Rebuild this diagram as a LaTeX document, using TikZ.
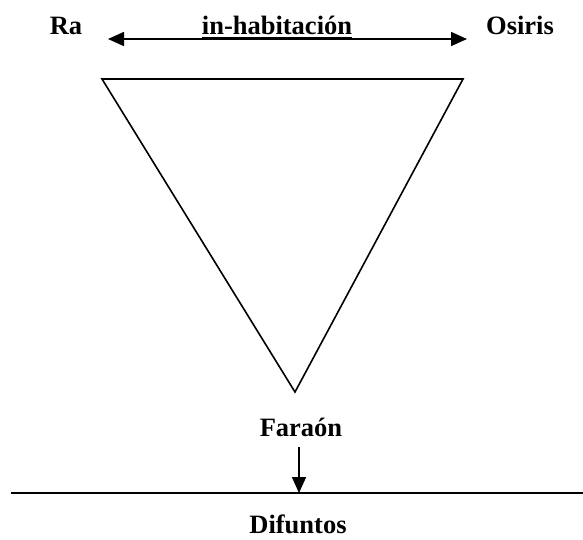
\documentclass[tikz,border=0pt]{standalone}
\usepackage{fontspec}
\setmainfont{Liberation Serif}
\usetikzlibrary{arrows.meta}
\begin{document}
\begin{tikzpicture}[x=1pt,y=-1pt,
  label/.style={font=\fontsize{26.5}{30}\selectfont\bfseries, inner sep=0pt, anchor=base},
  thin line/.style={line width=1.6pt},
  tip/.style={-{Triangle[length=16pt,width=14pt]}},
  both tips/.style={{Triangle[length=16pt,width=14pt]}-{Triangle[length=16pt,width=14pt]}}]
  \useasboundingbox (0,0) rectangle (583,539);
  % upper labels
  \node[label] (ra) at (66,34) {Ra};
  \node[label] (osiris) at (520,34) {Osiris};
  \node[label] (inh) at (277,34) {in-habitación};
  \draw[line width=1.5pt] ([yshift=-3.5pt]inh.base west) -- ([yshift=-3.5pt]inh.base east);
  % two-way arrow between Ra and Osiris
  \coordinate (aL) at (108,39);
  \coordinate (aR) at (467,39);
  \draw[thin line, both tips] (aL) -- (aR);
  % inverted triangle
  \coordinate (tl) at (102,79);
  \coordinate (tr) at (463,79);
  \coordinate (tb) at (295,392);
  \draw[thin line, line join=miter] (tl) -- (tr) -- (tb) -- cycle;
  % lower part
  \node[label] (faraon) at (301,436) {Faraón};
  \coordinate (ground) at (299,493);
  \coordinate (fs) at (299,447);
  \draw[thin line, tip] (fs) -- (ground);
  \coordinate (gl) at (11,493);
  \coordinate (gr) at (583,493);
  \draw[thin line] (gl) -- (gr);
  \node[label] (difuntos) at (298,533) {Difuntos};
\end{tikzpicture}
\end{document}
